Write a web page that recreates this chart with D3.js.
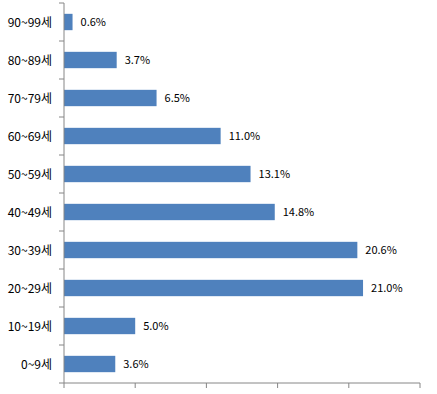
<!DOCTYPE html>
<html><head><meta charset="utf-8">
<script src="https://cdn.jsdelivr.net/npm/d3@7"></script>
<style>body{margin:0;background:#fff}svg{display:block}</style>
</head><body>
<script>
const categories = ["90~99세","80~89세","70~79세","60~69세","50~59세","40~49세","30~39세","20~29세","10~19세","0~9세"];
const values = [0.6,3.7,6.5,11.0,13.1,14.8,20.6,21.0,5.0,3.6];
const xTicks = [0,5,10,15,20,25];

(function(){
const W=437,H=394;
const svg=d3.select("body").append("svg").attr("width",W).attr("height",H);
const mLeft=64, mRight=420, mTop=3, mBottom=383;
const x=d3.scaleLinear().domain([0,25]).range([mLeft,mRight]);
const y=d3.scaleBand().domain(categories).range([mTop,mBottom]).paddingInner(0.57).paddingOuter(0.285);
const font='"Noto Sans CJK KR","DejaVu Sans",sans-serif';
const axisColor="#868686";

svg.selectAll("rect.bar").data(values).join("rect")
  .attr("x",x(0)).attr("y",(d,i)=>y(categories[i]))
  .attr("width",d=>x(d)-x(0)).attr("height",y.bandwidth())
  .attr("fill","#4F81BD");

svg.selectAll("text.val").data(values).join("text")
  .attr("x",d=>x(d)+8).attr("y",(d,i)=>y(categories[i])+y.bandwidth()/2+0.5)
  .attr("dy","0.35em").attr("font-family",font).attr("font-size",11).attr("fill","#000")
  .text(d=>d.toFixed(1)+"%");

const yBoundaries=d3.range(categories.length+1).map(i=>mTop+i*(mBottom-mTop)/categories.length);
svg.append("line").attr("x1",mLeft).attr("x2",mLeft).attr("y1",mTop).attr("y2",mBottom).attr("stroke",axisColor);
svg.selectAll("line.yt").data(yBoundaries).join("line")
  .attr("x1",mLeft-5).attr("x2",mLeft).attr("y1",d=>d).attr("y2",d=>d).attr("stroke",axisColor);
svg.selectAll("text.cat").data(categories).join("text")
  .attr("x",52).attr("y",d=>y(d)+y.bandwidth()/2+0.5).attr("dy","0.35em")
  .attr("text-anchor","end").attr("font-family",font).attr("font-size",12).attr("fill","#000")
  .text(d=>d);

svg.append("line").attr("x1",mLeft).attr("x2",mRight).attr("y1",mBottom).attr("y2",mBottom).attr("stroke",axisColor);
svg.selectAll("line.xt").data(xTicks).join("line")
  .attr("x1",d=>x(d)).attr("x2",d=>x(d)).attr("y1",mBottom).attr("y2",mBottom+5).attr("stroke",axisColor);
})();
</script>
</body></html>
